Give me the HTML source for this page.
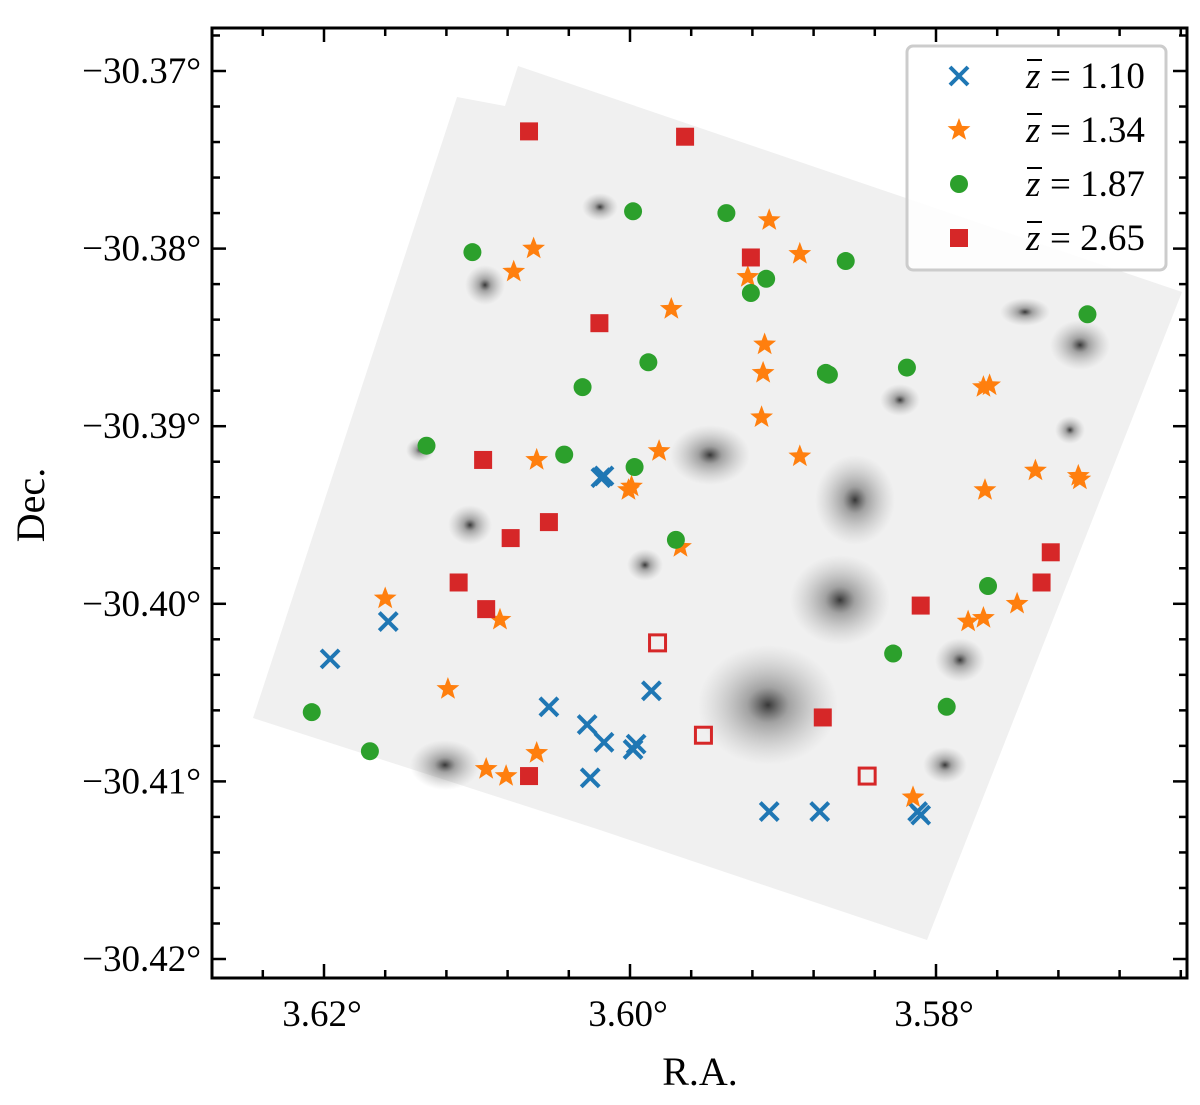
<!DOCTYPE html>
<html><head><meta charset="utf-8"><style>
html,body{margin:0;padding:0;background:#fff;}
svg{display:block;font-family:"Liberation Serif",serif;}
</style></head><body>
<svg id="chart" width="1200" height="1105" viewBox="0 0 1200 1105" xmlns="http://www.w3.org/2000/svg">
<defs>
<radialGradient id="gal" cx="50%" cy="50%" r="50%">
<stop offset="0" stop-color="#222" stop-opacity="0.9"/>
<stop offset="0.3" stop-color="#555" stop-opacity="0.5"/>
<stop offset="1" stop-color="#999" stop-opacity="0"/>
</radialGradient>
<clipPath id="plotclip"><rect x="212" y="28" width="975" height="950"/></clipPath>
</defs>
<g clip-path="url(#plotclip)">
<polygon points="253,718 457,97 505,106 518,66 1182,292 927,940 600,830" fill="#f0f0f0"/>
<g id="blobs"></g>
</g>
<g id="marks"></g>
<g id="axes"></g>
</svg>
<script>
// data
const blueRA=[3.6196,3.6158,3.6053,3.6028,3.6017,3.6026,3.5998,3.5996,3.5986,3.6019,3.6017,3.5909,3.5876,3.5812,3.5810];
const blueDec=[-30.4031,-30.4010,-30.4058,-30.4068,-30.4078,-30.4098,-30.4082,-30.4079,-30.4049,-30.3929,-30.3928,-30.4117,-30.4117,-30.4117,-30.4119];
const orangeRA=[3.6063,3.6076,3.5909,3.5889,3.5923,3.5973,3.5912,3.5913,3.5769,3.5765,3.5914,3.6061,3.5981,3.6001,3.5999,3.5889,3.5768,3.5735,3.5707,3.5706,3.5967,3.6160,3.6085,3.5779,3.5769,3.5747,3.6119,3.6061,3.6094,3.6081,3.5815];
const orangeDec=[-30.3800,-30.3813,-30.3784,-30.3803,-30.3816,-30.3834,-30.3854,-30.3870,-30.3878,-30.3877,-30.3895,-30.3919,-30.3914,-30.3936,-30.3934,-30.3917,-30.3936,-30.3925,-30.3928,-30.3930,-30.3968,-30.3997,-30.4009,-30.4010,-30.4008,-30.4000,-30.4048,-30.4084,-30.4093,-30.4097,-30.4109];
const greenRA=[3.6103,3.5998,3.5937,3.5859,3.5921,3.5911,3.5988,3.6031,3.5872,3.5870,3.5819,3.5701,3.6133,3.6043,3.5997,3.5970,3.5766,3.5828,3.5793,3.6208,3.6170];
const greenDec=[-30.3802,-30.3779,-30.3780,-30.3807,-30.3825,-30.3817,-30.3864,-30.3878,-30.3870,-30.3871,-30.3867,-30.3837,-30.3911,-30.3916,-30.3923,-30.3964,-30.3990,-30.4028,-30.4058,-30.4061,-30.4083];
const redRA=[3.6066,3.5964,3.5921,3.6020,3.6096,3.6053,3.6078,3.6112,3.6094,3.5810,3.5725,3.5731,3.5874,3.6066];
const redDec=[-30.3734,-30.3737,-30.3805,-30.3842,-30.3919,-30.3954,-30.3963,-30.3988,-30.4003,-30.4001,-30.3971,-30.3988,-30.4064,-30.4097];
const redOpenRA=[3.5982,3.5952,3.5845];
const redOpenDec=[-30.4022,-30.4074,-30.4097];
const xTicks=[3.62,3.60,3.58];
const xTickLabels=["3.62°","3.60°","3.58°"];
const yTicks=[-30.37,-30.38,-30.39,-30.40,-30.41,-30.42];
const yTickLabels=["−30.37°","−30.38°","−30.39°","−30.40°","−30.41°","−30.42°"];
const legendLabels=["1.10","1.34","1.87","2.65"];

const NS="http://www.w3.org/2000/svg";
const L=212,R=1187,T=28,B=978;
const ra0=3.60+418/15300, ra1=3.60-557/15300;
function X(ra){return L+(ra0-ra)/(ra0-ra1)*(R-L);}
function Y(d){return 71+(-30.37-d)/0.01*177.6;}
function mk(tag,attrs,parent){const e=document.createElementNS(NS,tag);for(const k in attrs)e.setAttribute(k,attrs[k]);parent.appendChild(e);return e;}

// background galaxies (decorative)
const blobs=document.getElementById('blobs');
[[710,455,40,30],[768,705,70,60],[840,600,50,45],[855,500,40,45],[600,207,18,14],[485,285,20,20],[445,765,35,25],[960,660,25,22],[945,765,22,18],[1080,345,30,25],[470,525,22,20],[645,565,18,16],[1070,430,15,14],[1025,312,25,14],[900,400,20,16],[420,450,14,12]].forEach(b=>{
const e=mk('ellipse',{cx:b[0],cy:b[1],rx:b[2],ry:b[3],fill:'url(#gal)'},blobs);


});

const marks=document.getElementById('marks');
function cross(cx,cy,s,g){const p=mk('path',{d:`M${cx-s},${cy-s}L${cx+s},${cy+s}M${cx-s},${cy+s}L${cx+s},${cy-s}`,stroke:'#1f77b4','stroke-width':4,fill:'none'},g);return p;}
function star(cx,cy,r,g){let pts=[];for(let i=0;i<10;i++){const a=-Math.PI/2+i*Math.PI/5;const rr=i%2?r*0.42:r;pts.push((cx+rr*Math.cos(a)).toFixed(1)+','+(cy+rr*Math.sin(a)).toFixed(1));}return mk('polygon',{points:pts.join(' '),fill:'#ff7f0e'},g);}

const gB=mk('g',{},marks);
blueRA.forEach((r,i)=>{const e=cross(X(r),Y(blueDec[i]),9,gB);

});
const gO=mk('g',{},marks);
orangeRA.forEach((r,i)=>{const e=star(X(r),Y(orangeDec[i]),12,gO);

});
const gG=mk('g',{},marks);
greenRA.forEach((r,i)=>{const e=mk('circle',{cx:X(r),cy:Y(greenDec[i]),r:9,fill:'#2ca02c'},gG);

});
const gR=mk('g',{},marks);
redRA.forEach((r,i)=>{const e=mk('rect',{x:X(r)-9,y:Y(redDec[i])-9,width:18,height:18,fill:'#d62728'},gR);

});
redOpenRA.forEach((r,i)=>{const e=mk('rect',{x:X(r)-8,y:Y(redOpenDec[i])-8,width:16,height:16,fill:'none',stroke:'#d62728','stroke-width':3},gR);

});

// axes
const ax=document.getElementById('axes');
const frame=mk('rect',{x:L,y:T,width:R-L,height:B-T,fill:'none',stroke:'#000','stroke-width':3},ax);


for(let k=-10;k<=20;k++){const v=3.60+k*0.004;const x=X(v);if(x<L+2||x>R-2)continue;const major=Math.abs(Math.round(k/5)*5-k)<1e-9;const len=major?14:8;
mk('line',{x1:x,y1:B,x2:x,y2:B-len,stroke:'#000','stroke-width':2.5},ax);
mk('line',{x1:x,y1:T,x2:x,y2:T+len,stroke:'#000','stroke-width':2.5},ax);}
for(let k=-10;k<=40;k++){const v=-30.36-k*0.002;const y=Y(v);if(y<T+2||y>B-2)continue;const major=k%5===0;const len=major?14:8;
mk('line',{x1:L,y1:y,x2:L+len,y2:y,stroke:'#000','stroke-width':2.5},ax);
mk('line',{x1:R,y1:y,x2:R-len,y2:y,stroke:'#000','stroke-width':2.5},ax);}
xTicks.forEach((v,i)=>{const t=mk('text',{x:X(v)-2,y:1026,'font-size':37,'text-anchor':'middle'},ax);t.textContent=xTickLabels[i];

});
yTicks.forEach((v,i)=>{const t=mk('text',{x:201,y:Y(v)+12,'font-size':37,'text-anchor':'end'},ax);t.textContent=yTickLabels[i];

});
const xt=mk('text',{x:700,y:1085,'font-size':40,'text-anchor':'middle'},ax);xt.textContent='R.A.';


const yt=mk('text',{x:0,y:0,'font-size':40,'text-anchor':'middle',transform:'translate(44,505) rotate(-90)'},ax);yt.textContent='Dec.';



// legend
const lg=mk('g',{},ax);
mk('rect',{x:907,y:46,width:259,height:224,rx:6,fill:'#fff','fill-opacity':0.85,stroke:'#ccc','stroke-width':3},lg);
const ly=[76,130,184,238];
legendLabels.forEach((lab,i)=>{const y=ly[i];let m;
if(i===0)m=cross(959,y,9,lg);else if(i===1)m=star(959,y,12,lg);else if(i===2)m=mk('circle',{cx:959,cy:y,r:9,fill:'#2ca02c'},lg);else m=mk('rect',{x:950,y:y-9,width:18,height:18,fill:'#d62728'},lg);


const zt=mk('text',{x:1026,y:y+12,'font-size':37,'font-style':'italic'},lg);zt.textContent='z';


mk('line',{x1:1027,y1:y-16,x2:1042,y2:y-16,stroke:'#000','stroke-width':2},lg);
const t=mk('text',{x:1050,y:y+12,'font-size':37},lg);t.textContent='= '+lab;

});
</script>
</body></html>
